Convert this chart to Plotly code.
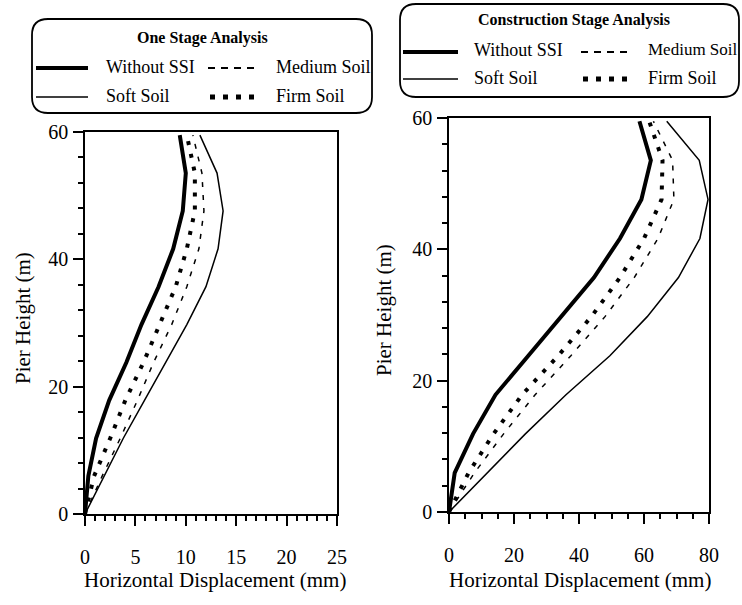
import plotly.graph_objects as go

# ---------------- data ----------------
heights = [0, 5.95, 11.9, 17.85, 23.8, 29.75, 35.7, 41.65, 47.6, 53.55, 59.5]

one_without = [0, 0.33, 1.1, 2.4, 4.1, 5.6, 7.3, 8.75, 9.7, 10.0, 9.4]
one_medium = [0, 1.7, 3.5, 5.2, 6.8, 8.6, 10.1, 11.3, 11.8, 11.6, 10.7]
one_firm = [0, 0.9, 2.5, 4.0, 5.8, 7.4, 9.0, 10.1, 10.9, 10.9, 10.1]
one_soft = [0, 1.9, 3.8, 5.9, 8.0, 10.1, 12.0, 13.2, 13.7, 13.1, 11.4]

cs_without = [0, 1.75, 7.4, 14.3, 24.4, 34.6, 44.6, 52.6, 59.2, 62.1, 58.6]
cs_medium = [0, 7.8, 16.8, 26.5, 37.5, 48.0, 57.0, 64.3, 69.2, 68.8, 62.9]
cs_firm = [0, 6.0, 13.7, 22.5, 33.6, 43.8, 52.6, 60.0, 65.4, 65.7, 61.6]
cs_soft = [0, 11.8, 23.5, 36.0, 49.5, 61.0, 70.6, 77.2, 79.7, 77.0, 67.0]

series_names = ["Without SSI", "Medium Soil", "Soft Soil", "Firm Soil"]
panel_titles = ["One Stage Analysis", "Construction Stage Analysis"]
x_title = "Horizontal Displacement (mm)"
y_title = "Pier Height (m)"

# ---------------- figure ----------------
W, H = 742, 605
FONT = "Liberation Serif, serif"

styles = {
    "Without SSI": dict(color="black", width=4, dash="solid"),
    "Medium Soil": dict(color="black", width=1.5, dash="5px,8px"),
    "Soft Soil": dict(color="black", width=1.5, dash="solid"),
    "Firm Soil": dict(color="black", width=4, dash="4px,9px"),
}

fig = go.Figure()
left = dict(zip(series_names, [one_without, one_medium, one_soft, one_firm]))
right = dict(zip(series_names, [cs_without, cs_medium, cs_soft, cs_firm]))
for name in series_names:
    fig.add_trace(go.Scatter(x=left[name], y=heights, mode="lines", line=styles[name],
                             xaxis="x", yaxis="y", showlegend=False, name=name))
    fig.add_trace(go.Scatter(x=right[name], y=heights, mode="lines", line=styles[name],
                             xaxis="x2", yaxis="y2", showlegend=False, name=name))


def px_x(p):
    return p / W


def px_y(p):
    return 1 - p / H


def axis_common():
    return dict(showline=True, linecolor="black", linewidth=1.6, mirror=True,
                ticks="outside", ticklen=10, tickwidth=1.5, tickcolor="black",
                showgrid=False, zeroline=False, automargin=False,
                tickfont=dict(family=FONT, size=20, color="black"))


minor_style = dict(ticklen=5, ticks="outside", tickwidth=1.5, tickcolor="black", showgrid=False)

xa = axis_common()
xa.update(domain=[px_x(85), px_x(337)], range=[0, 25], dtick=5, tick0=0, anchor="y",
          minor=dict(dtick=1, **minor_style), ticklabelstandoff=14)
ya = axis_common()
ya.update(domain=[px_y(514), px_y(132)], range=[0, 60], dtick=20, tick0=0, anchor="x",
          minor=dict(dtick=4, **minor_style), ticklabelstandoff=1)
xa2 = axis_common()
xa2.update(domain=[px_x(449), px_x(709)], range=[0, 80], dtick=20, tick0=0, anchor="y2",
           minor=dict(dtick=5, **minor_style), ticklabelstandoff=14)
ya2 = axis_common()
ya2.update(domain=[px_y(512), px_y(118)], range=[0, 60], dtick=20, tick0=0, anchor="x2",
           minor=dict(dtick=4, **minor_style), ticklabelstandoff=1)

shapes = []
annotations = []


def rounded_box(x0, y0, x1, y1, r):
    rx, ry = r / W, r / H
    X0, X1 = px_x(x0), px_x(x1)
    Y0, Y1 = px_y(y0), px_y(y1)
    path = (f"M {X0+rx},{Y0} L {X1-rx},{Y0} Q {X1},{Y0} {X1},{Y0-ry} "
            f"L {X1},{Y1+ry} Q {X1},{Y1} {X1-rx},{Y1} "
            f"L {X0+rx},{Y1} Q {X0},{Y1} {X0},{Y1+ry} "
            f"L {X0},{Y0-ry} Q {X0},{Y0} {X0+rx},{Y0} Z")
    return dict(type="path", xref="paper", yref="paper", path=path,
                line=dict(color="black", width=1.8), fillcolor="rgba(0,0,0,0)")


def sample(x0, x1, y, name):
    if name == "Without SSI":
        st = dict(color="black", width=4, dash="solid")
    elif name == "Soft Soil":
        st = dict(color="black", width=1.5, dash="solid")
    elif name == "Medium Soil":
        st = dict(color="black", width=2, dash="7px,6px")
    else:
        st = dict(color="black", width=5, dash="5px,8px")
    return dict(type="line", xref="paper", yref="paper",
                x0=px_x(x0), x1=px_x(x1), y0=px_y(y), y1=px_y(y), line=st)


def text(x, y, s, size=18, bold=False, anchor="left", angle=0):
    t = f"<b>{s}</b>" if bold else s
    return dict(xref="paper", yref="paper", x=px_x(x), y=px_y(y), text=t,
                showarrow=False, xanchor=anchor, yanchor="middle", textangle=angle,
                font=dict(family=FONT, size=size, color="black"))


# Legend box 1
shapes.append(rounded_box(32, 19, 372, 113, 16))
annotations.append(text(202, 38, panel_titles[0], size=16, bold=True, anchor="center"))
shapes.append(sample(36, 88, 68, "Without SSI"))
annotations.append(text(104, 67, "Without SSI"))
shapes.append(sample(208, 254, 68, "Medium Soil"))
annotations.append(text(274, 67, "Medium Soil"))
shapes.append(sample(36, 88, 97, "Soft Soil"))
annotations.append(text(104, 96, "Soft Soil"))
shapes.append(sample(210, 254, 97, "Firm Soil"))
annotations.append(text(274, 96, "Firm Soil"))

# Legend box 2
shapes.append(rounded_box(400, 4, 739, 97, 16))
annotations.append(text(574, 20, panel_titles[1], size=16, bold=True, anchor="center"))
shapes.append(sample(403, 458, 52, "Without SSI"))
annotations.append(text(472, 50, "Without SSI"))
shapes.append(sample(581, 628, 52, "Medium Soil"))
annotations.append(text(646, 50, "Medium Soil", size=17))
shapes.append(sample(403, 458, 79, "Soft Soil"))
annotations.append(text(472, 78, "Soft Soil"))
shapes.append(sample(583, 628, 79, "Firm Soil"))
annotations.append(text(646, 78, "Firm Soil"))

# Axis titles
annotations.append(text(215, 580, x_title, size=21, anchor="center"))
annotations.append(text(580, 580, x_title, size=21, anchor="center"))
annotations.append(text(23, 318, y_title, size=21, anchor="center", angle=-90))
annotations.append(text(384, 310, y_title, size=21, anchor="center", angle=-90))

fig.update_layout(
    template="none",
    width=W, height=H, margin=dict(l=0, r=0, t=0, b=0, autoexpand=False),
    paper_bgcolor="white", plot_bgcolor="white",
    font=dict(family=FONT, color="black"),
    xaxis=xa, yaxis=ya, xaxis2=xa2, yaxis2=ya2,
    shapes=shapes, annotations=annotations, showlegend=False,
)

fig.write_html("out.html")
